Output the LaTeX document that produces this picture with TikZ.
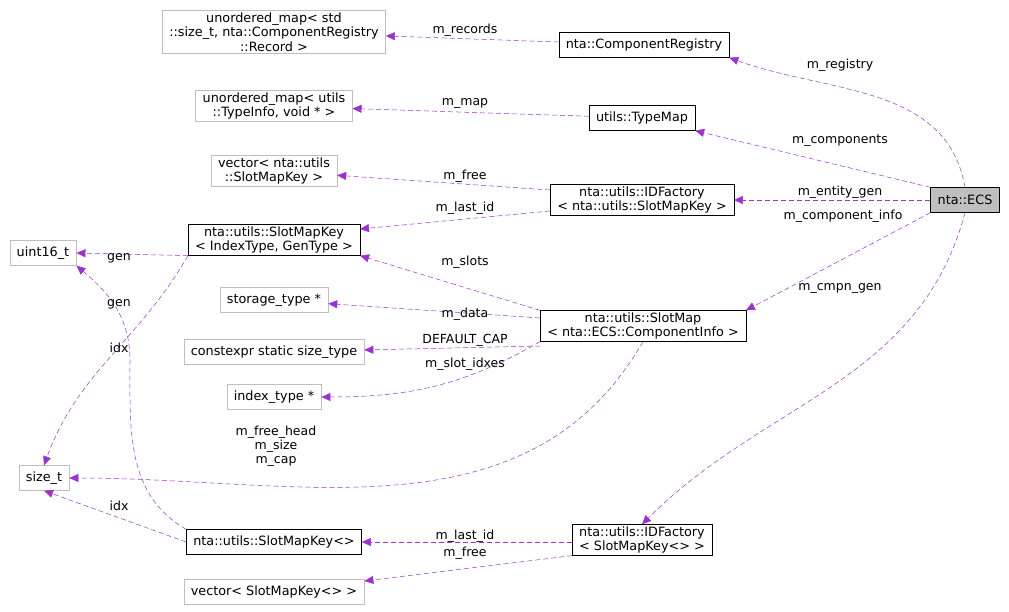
\documentclass[tikz,border=0pt]{standalone}
\usepackage{fontspec}
\setmainfont{DejaVu Sans}
\usetikzlibrary{arrows.meta}
\definecolor{edgec}{HTML}{9A32CD}
\definecolor{grayb}{HTML}{BFBFBF}
\tikzset{
  cls/.style={draw=black, fill=white, align=center, inner xsep=7pt, inner ysep=2pt, font=\fontsize{12.8}{14.5}\selectfont, minimum height=25pt},
  ext/.style={cls, draw=grayb},
  self/.style={cls, fill=grayb},
  uses/.style={draw=edgec, dash pattern=on 5pt off 3pt, -{Triangle[length=9pt,width=8pt]}, line width=0.5pt},
  lbl/.style={font=\fontsize{12.5}{14}\selectfont, align=center, inner sep=0pt}
}
\begin{document}
\begin{tikzpicture}[x=1pt,y=-1pt]
  \useasboundingbox (0,0) rectangle (1009,612);
  % classes
  \node[ext] (rec) at (274,32) {unordered\_map< std\\::size\_t, nta::ComponentRegistry\\::Record >};
  \node[cls] (reg) at (644,45) {nta::ComponentRegistry};
  \node[ext] (map) at (274,106) {unordered\_map< utils\\::TypeInfo, void * >};
  \node[cls] (tmap) at (642,118) {utils::TypeMap};
  \node[ext] (vecA) at (274,171) {vector< nta::utils\\::SlotMapKey >};
  \node[cls] (idfA) at (642,200) {nta::utils::IDFactory\\< nta::utils::SlotMapKey >};
  \node[self] (ecs) at (965,200) {nta::ECS};
  \node[cls] (smk) at (274,240) {nta::utils::SlotMapKey\\< IndexType, GenType >};
  \node[ext] (u16) at (43,253) {uint16\_t};
  \node[ext] (st) at (274,300) {storage\_type *};
  \node[cls] (sm) at (643,326) {nta::utils::SlotMap\\< nta::ECS::ComponentInfo >};
  \node[ext] (cs) at (274,352) {constexpr static size\_type};
  \node[ext] (it) at (274,397) {index\_type *};
  \node[ext] (sz) at (44,478) {size\_t};
  \node[cls] (smkB) at (274,542) {nta::utils::SlotMapKey<>};
  \node[cls] (idfB) at (642,540) {nta::utils::IDFactory\\< SlotMapKey<> >};
  \node[ext] (vecB) at (274,592) {vector< SlotMapKey<> >};
  % connectors
  \draw[uses] (reg) -- (rec);
  \draw[uses] (ecs.north) to[out=100,in=-20] (reg.south east);
  \draw[uses] (tmap) -- (map);
  \draw[uses] (ecs.north west) -- (tmap.south east);
  \draw[uses] (idfA.west |- 0,190) -- (vecA);
  \draw[uses] (idfA.west |- 0,211) -- (smk.east |- 0,229);
  \draw[uses] (ecs) -- (idfA);
  \draw[uses] (ecs.south west) -- (sm.north east);
  \draw[uses] (ecs.south) to[out=-105,in=45] (idfB.north);
  \draw[uses] (smk.south west) -- (u16.east);
  \draw[uses] (smk.south west) to[out=-120,in=70] (sz.north);
  \draw[uses] (sm.north west) -- (smk.south east);
  \draw[uses] (sm.west |- 0,318) -- (st);
  \draw[uses] (sm.west |- 0,346) -- (cs);
  \draw[uses] (sm.south west) to[out=-150,in=0] (it);
  \draw[uses] (sm.south) to[out=-120,in=0] (sz.east);
  \draw[uses] (smkB.north west) to[out=150,in=-90] (130,360) to[out=90,in=-40] (u16.south east);
  \draw[uses] (smkB.west) -- (sz.south);
  \draw[uses] (idfB.west |- 0,542) -- (smkB);
  \draw[uses] (idfB.south west) -- (vecB);
  % labels
  \node[lbl] (lRec) at (465,30) {m\_records};
  \node[lbl] (lReg) at (840,65) {m\_registry};
  \node[lbl] (lMap) at (465,103) {m\_map};
  \node[lbl] (lCmp) at (840,141) {m\_components};
  \node[lbl] (lFrA) at (465,176) {m\_free};
  \node[lbl] (lLiA) at (465,208) {m\_last\_id};
  \node[lbl] (lEnt) at (840,192) {m\_entity\_gen};
  \node[lbl] (lCi) at (843,216) {m\_component\_info};
  \node[lbl] (lCg) at (840,288) {m\_cmpn\_gen};
  \node[lbl] (lSl) at (465,262) {m\_slots};
  \node[lbl] (lDa) at (465,314) {m\_data};
  \node[lbl] (lDc) at (465,340) {DEFAULT\_CAP};
  \node[lbl] (lSi) at (465,364) {m\_slot\_idxes};
  \node[lbl] (lFh) at (276,446) {m\_free\_head\\m\_size\\m\_cap};
  \node[lbl] (lGA) at (119,258) {gen};
  \node[lbl] (lGB) at (119,304) {gen};
  \node[lbl] (lIA) at (119,348) {idx};
  \node[lbl] (lIB) at (119,506) {idx};
  \node[lbl] (lLiB) at (465,536) {m\_last\_id};
  \node[lbl] (lFrB) at (465,553) {m\_free};
\end{tikzpicture}
\end{document}
